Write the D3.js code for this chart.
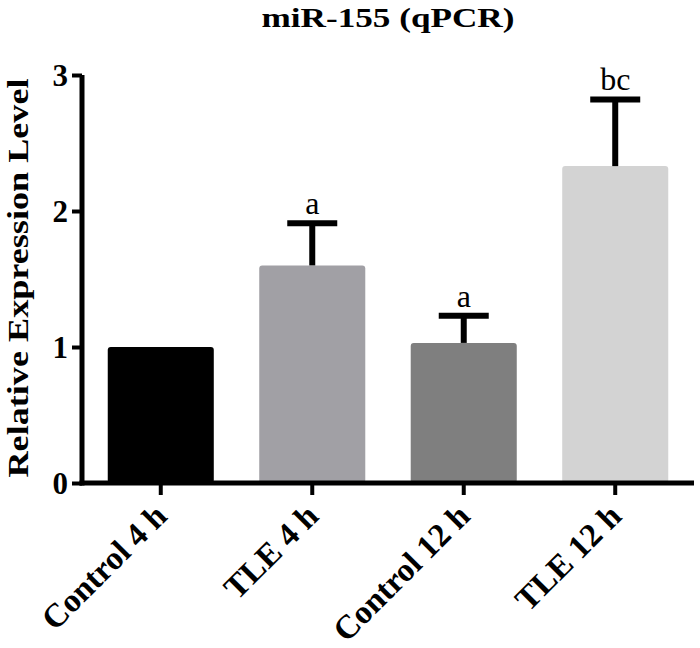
<!DOCTYPE html>
<html>
<head>
<meta charset="utf-8">
<script src="https://cdn.jsdelivr.net/npm/d3@7"></script>
<style>
html,body{margin:0;padding:0;background:#fff;}
svg{display:block;}
</style>
</head>
<body>
<svg id="chart" width="700" height="648"></svg>
<script>
const categories = ["Control 4 h", "TLE 4 h", "Control 12 h", "TLE 12 h"];
const means = [1.0, 1.60, 1.03, 2.33];
const errors = [0.0, 0.31, 0.20, 0.49];
const sigLabels = ["", "a", "a", "bc"];
const barColors = ["#000000", "#a1a0a5", "#7f7f7f", "#d3d3d3"];
const yTicks = [0, 1, 2, 3];

const svg = d3.select("#chart");
const x0 = 82, x1 = 694, yBottom = 483, yTop = 75;
const font = "'Liberation Serif','Times New Roman',Times,serif";

const x = d3.scaleBand().domain(categories).range([x0, x1]).paddingInner(0.3).paddingOuter(0.17);
const y = d3.scaleLinear().domain([0, 3]).range([yBottom, yTop]);

// bars
svg.append("g").selectAll("rect").data(categories).join("rect")
  .attr("x", d => x(d))
  .attr("y", (d, i) => y(means[i]))
  .attr("width", x.bandwidth())
  .attr("height", (d, i) => y(0) - y(means[i]))
  .attr("rx", 3)
  .attr("fill", (d, i) => barColors[i]);

// error bars (upper only)
const capW = 50;
const eg = svg.append("g");
categories.forEach((c, i) => {
  if (errors[i] <= 0) return;
  const cx = x(c) + x.bandwidth() / 2;
  eg.append("line").attr("x1", cx).attr("x2", cx)
    .attr("y1", y(means[i])).attr("y2", y(means[i] + errors[i]))
    .attr("stroke", "#000").attr("stroke-width", 6);
  eg.append("line").attr("x1", cx - capW / 2).attr("x2", cx + capW / 2)
    .attr("y1", y(means[i] + errors[i])).attr("y2", y(means[i] + errors[i]))
    .attr("stroke", "#000").attr("stroke-width", 6);
  eg.append("text").attr("x", cx).attr("y", y(means[i] + errors[i]) - 9)
    .attr("text-anchor", "middle")
    .attr("font-family", font).attr("font-size", 32)
    .text(sigLabels[i]);
});

// y axis
const yAxis = svg.append("g").attr("transform", `translate(${x0},0)`)
  .call(d3.axisLeft(y).tickValues(yTicks).tickFormat(d3.format("d")).tickSize(10).tickPadding(4));
yAxis.select(".domain").attr("stroke", "#000").attr("stroke-width", 5)
  .attr("d", `M0,${yBottom + 2.5}V${yTop}`);
yAxis.selectAll(".tick line").attr("stroke", "#000").attr("stroke-width", 4);
yAxis.selectAll(".tick text").attr("font-family", font).attr("font-size", 31)
  .attr("font-weight", "bold").attr("fill", "#000").attr("dy", "0.34em");

// x axis
const xAxis = svg.append("g").attr("transform", `translate(0,${yBottom})`)
  .call(d3.axisBottom(x).tickSize(12).tickFormat(""));
xAxis.select(".domain").attr("stroke", "#000").attr("stroke-width", 5)
  .attr("d", `M${x0 - 2.5},0H${x1}`);
xAxis.selectAll(".tick line").attr("stroke", "#000").attr("stroke-width", 4);

// x labels rotated
svg.append("g").selectAll("text").data(categories).join("text")
  .attr("transform", d => `translate(${x(d) + x.bandwidth() / 2 + 8},518) rotate(-45)`)
  .attr("text-anchor", "end")
  .attr("font-family", font).attr("font-size", 33).attr("font-weight", "bold")
  .text(d => d);

// title
svg.append("text").attr("x", 388).attr("y", 27).attr("text-anchor", "middle")
  .attr("font-family", font).attr("font-size", 27).attr("font-weight", "bold")
  .attr("textLength", 253).attr("lengthAdjust", "spacingAndGlyphs")
  .text("miR-155 (qPCR)");

// y label
svg.append("text").attr("transform", `translate(28,278) rotate(-90)`)
  .attr("text-anchor", "middle")
  .attr("font-family", font).attr("font-size", 30).attr("font-weight", "bold")
  .attr("textLength", 399).attr("lengthAdjust", "spacingAndGlyphs")
  .text("Relative Expression Level");
</script>
</body>
</html>
